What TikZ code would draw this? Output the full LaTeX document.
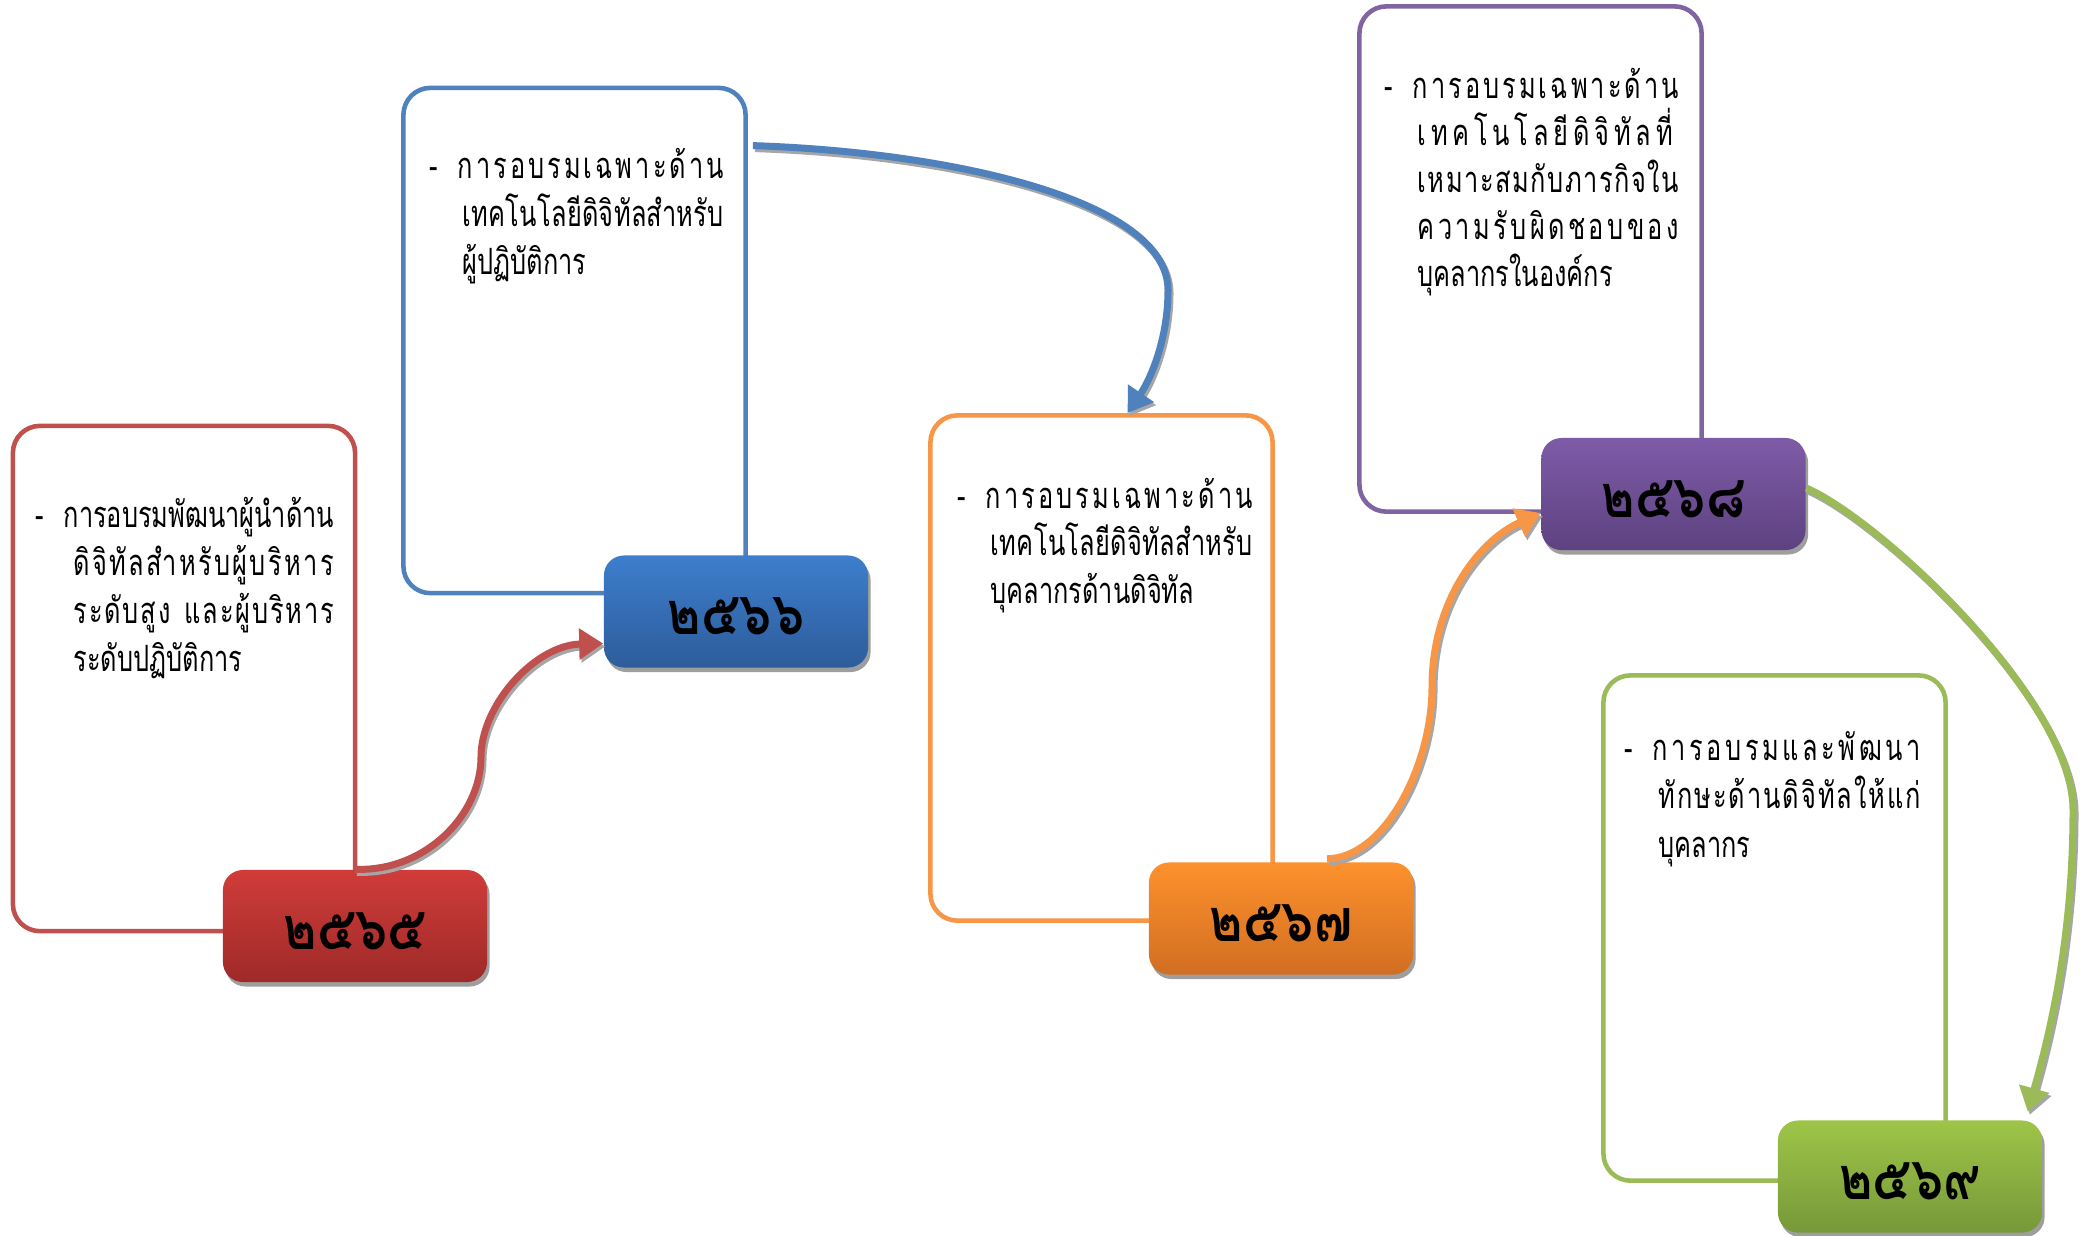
\documentclass[tikz,border=0pt]{standalone}
\usepackage{fontspec}
\newfontfamily\thaifont[Script=Thai,FakeStretch=0.7]{Loma}
\newfontfamily\thaiyear[Script=Thai,FakeStretch=0.85]{Loma}
\usetikzlibrary{arrows.meta,shadows}
\definecolor{cR}{HTML}{C0504D}
\definecolor{cB}{HTML}{4F81BD}
\definecolor{cO}{HTML}{F79646}
\definecolor{cP}{HTML}{8064A2}
\definecolor{cG}{HTML}{9BBB59}
\definecolor{rT}{RGB}{208,60,57}\definecolor{rB}{RGB}{158,42,40}
\definecolor{bT}{RGB}{61,126,204}\definecolor{bB}{RGB}{45,92,155}
\definecolor{oT}{RGB}{253,145,45}\definecolor{oB}{RGB}{209,110,33}
\definecolor{pT}{RGB}{126,91,167}\definecolor{pB}{RGB}{93,66,128}
\definecolor{gT}{RGB}{158,197,72}\definecolor{gB}{RGB}{119,152,57}
\newcommand\bodyfont{\thaifont\fontsize{10.3}{13}\selectfont}
\newcommand\yearfont{\thaiyear\bfseries\fontsize{17}{17}\selectfont}
\newcommand\dsh{\llap{-\hskip0.2cm}}
\newcommand\yr[1]{\raisebox{-0.23cm}[0pt][0pt]{#1}}
\newcommand\pthR{(labR.north) .. controls (425,872) and (481,815) .. (481,757) .. controls (481,705) and (535,645) .. ([yshift=-0.32cm]labB.west)}
\newcommand\pthB{([xshift=0.05cm,yshift=-0.6cm]boxB.north east) .. controls (950,152) and (1168,200) .. (1168,290) .. controls (1168,340) and (1150,380) .. ([xshift=0.26cm]boxO.north)}
\newcommand\pthO{([xshift=0.46cm,yshift=0.03cm]labO.north) .. controls (1385,858) and (1432,765) .. (1432,687) .. controls (1432,600) and (1480,540) .. ([yshift=-0.19cm]labP.west)}
\newcommand\pthG{([yshift=0.06cm]labP.east) .. controls (1880,520) and (2073,700) .. (2073,810) .. controls (2073,950) and (2045,1050) .. ([xshift=-0.15cm,yshift=0.08cm]labG.north east)}
\begin{document}
\begin{tikzpicture}[x=0.01cm,y=-0.01cm,
  outbox/.style={draw=#1, fill=white, line width=1.3pt, rounded corners=0.27cm, minimum width=3.42cm, minimum height=5.05cm, inner sep=0pt},
  yearbox/.style 2 args={rounded corners=0.2cm, minimum width=2.64cm, minimum height=1.12cm, inner sep=0pt, top color=#1, bottom color=#2, drop shadow={shadow xshift=0.025cm, shadow yshift=-0.045cm, fill=black!38, opacity=1}, font=\yearfont, text=black},
  txt/.style={anchor=base west, inner sep=0pt, font=\bodyfont},
  conn/.style={line width=0.07cm, -{Triangle[length=0.24cm,width=0.3cm]}},
  connshadow/.style={conn, draw=black!35, transform canvas={xshift=0.02cm,yshift=-0.03cm}}]
\useasboundingbox (0,0) rectangle (2082,1235);
% outline boxes
\node[outbox=cR] (boxR) at (184,678.5) {};
\node[outbox=cB] (boxB) at (574.5,340.5) {};
\node[outbox=cO] (boxO) at (1101.5,668) {};
\node[outbox=cP] (boxP) at (1530.5,259) {};
\node[outbox=cG] (boxG) at (1774.5,928) {};
% year labels
\node[yearbox={rT}{rB}] (labR) at (355,926) {\yr{๒๕๖๕}};
\node[yearbox={bT}{bB}] (labB) at (736,611.5) {\yr{๒๕๖๖}};
\node[yearbox={oT}{oB}] (labO) at (1281,918.5) {\yr{๒๕๖๗}};
\node[yearbox={pT}{pB}] (labP) at (1673.5,494) {\yr{๒๕๖๘}};
\node[yearbox={gT}{gB}] (labG) at (1910,1176.5) {\yr{๒๕๖๙}};
% texts
\node[txt] (txtR) at (63,527) {\vtop{\baselineskip=0.48cm
\hbox to 2.70cm{\dsh ก\hfil า\hfil ร\hfil อ\hfil บ\hfil ร\hfil ม\hfil พั\hfil ฒ\hfil น\hfil า\hfil ผู้\hfil นำ\hfil ด้\hfil า\hfil น}
\hbox{\hskip0.1cm\hbox to 2.60cm{ดิ\hfil จิ\hfil ทั\hfil ล\hfil สำ\hfil ห\hfil รั\hfil บ\hfil ผู้\hfil บ\hfil ริ\hfil ห\hfil า\hfil ร}}
\hbox{\hskip0.1cm\hbox to 2.60cm{ร\hfil ะ\hfil ดั\hfil บ\hfil สู\hfil ง\hfil\hskip0.12cm แ\hfil ล\hfil ะ\hfil ผู้\hfil บ\hfil ริ\hfil ห\hfil า\hfil ร}}
\hbox{\hskip0.1cm ระดับปฏิบัติการ}}};
\node[txt] (txtB) at (457,178) {\vtop{\baselineskip=0.48cm
\hbox to 2.66cm{\dsh ก\hfil า\hfil ร\hfil อ\hfil บ\hfil ร\hfil ม\hfil เ\hfil ฉ\hfil พ\hfil า\hfil ะ\hfil ด้\hfil า\hfil น}
\hbox{\hskip0.05cm\hbox to 2.61cm{เ\hfil ท\hfil ค\hfil โ\hfil น\hfil โ\hfil ล\hfil ยี\hfil ดิ\hfil จิ\hfil ทั\hfil ล\hfil สำ\hfil ห\hfil รั\hfil บ}}
\hbox{\hskip0.05cm ผู้ปฏิบัติการ}}};
\node[txt] (txtO) at (985,508) {\vtop{\baselineskip=0.475cm
\hbox to 2.67cm{\dsh ก\hfil า\hfil ร\hfil อ\hfil บ\hfil ร\hfil ม\hfil เ\hfil ฉ\hfil พ\hfil า\hfil ะ\hfil ด้\hfil า\hfil น}
\hbox{\hskip0.05cm\hbox to 2.62cm{เ\hfil ท\hfil ค\hfil โ\hfil น\hfil โ\hfil ล\hfil ยี\hfil ดิ\hfil จิ\hfil ทั\hfil ล\hfil สำ\hfil ห\hfil รั\hfil บ}}
\hbox{\hskip0.05cm บุคลากรด้านดิจิทัล}}};
\node[txt] (txtP) at (1412,98) {\vtop{\baselineskip=0.47cm
\hbox to 2.66cm{\dsh ก\hfil า\hfil ร\hfil อ\hfil บ\hfil ร\hfil ม\hfil เ\hfil ฉ\hfil พ\hfil า\hfil ะ\hfil ด้\hfil า\hfil น}
\hbox{\hskip0.05cm\hbox to 2.55cm{เ\hfil ท\hfil ค\hfil โ\hfil น\hfil โ\hfil ล\hfil ยี\hfil ดิ\hfil จิ\hfil ทั\hfil ล\hfil ที่}}
\hbox{\hskip0.05cm\hbox to 2.61cm{เ\hfil ห\hfil ม\hfil า\hfil ะ\hfil ส\hfil ม\hfil กั\hfil บ\hfil ภ\hfil า\hfil ร\hfil กิ\hfil จ\hfil ใ\hfil น}}
\hbox{\hskip0.05cm\hbox to 2.61cm{ค\hfil ว\hfil า\hfil ม\hfil รั\hfil บ\hfil ผิ\hfil ด\hfil ช\hfil อ\hfil บ\hfil ข\hfil อ\hfil ง}}
\hbox{\hskip0.05cm บุคลากรในองค์กร}}};
\node[txt] (txtG) at (1652,760) {\vtop{\baselineskip=0.485cm
\hbox to 2.68cm{\dsh ก\hfil า\hfil ร\hfil อ\hfil บ\hfil ร\hfil ม\hfil แ\hfil ล\hfil ะ\hfil พั\hfil ฒ\hfil น\hfil า}
\hbox{\hskip0.06cm\hbox to 2.62cm{ทั\hfil ก\hfil ษ\hfil ะ\hfil ด้\hfil า\hfil น\hfil ดิ\hfil จิ\hfil ทั\hfil ล\hfil ใ\hfil ห้\hfil แ\hfil ก่}}
\hbox{\hskip0.06cm บุคลากร}}};
% connectors: shadows then arrows
\draw[connshadow] \pthR;
\draw[conn, draw=cR] \pthR;
\draw[connshadow] \pthB;
\draw[conn, draw=cB] \pthB;
\draw[connshadow] \pthO;
\draw[conn, draw=cO] \pthO;
\draw[connshadow] \pthG;
\draw[conn, draw=cG] \pthG;
\end{tikzpicture}
\end{document}
